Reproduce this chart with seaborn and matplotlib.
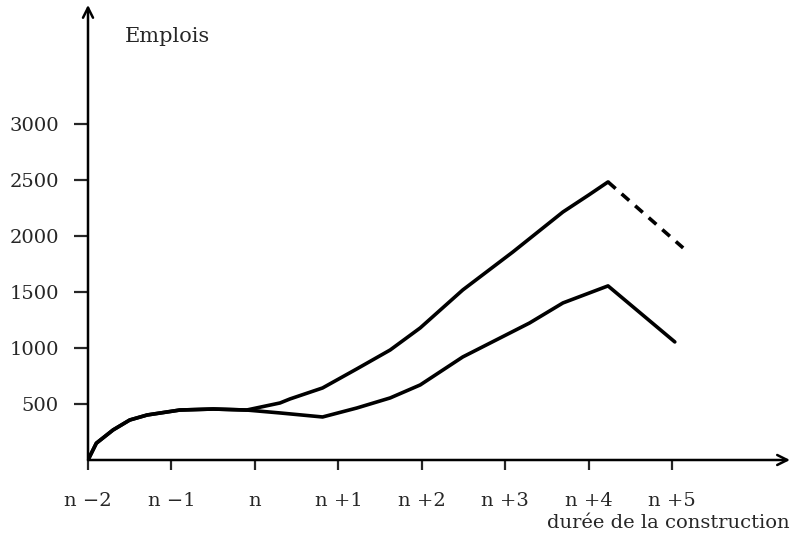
import numpy as np
import pandas as pd
import matplotlib
matplotlib.use("Agg")
import matplotlib.pyplot as plt
import seaborn as sns

# ===============================
# Data
# (x in periods counted from n-2, y in jobs)
# ===============================
period_labels = ["n \u22122", "n \u22121", "n", "n +1", "n +2", "n +3", "n +4", "n +5"]
y_ticks = [500, 1000, 1500, 2000, 2500, 3000]

upper_x = [0, 0.1, 0.3, 0.5, 0.71, 1.1, 1.5, 1.9, 2.3, 2.42, 2.81, 3.22, 3.62, 3.98, 4.49, 5.09, 5.69, 6.0, 6.23]
upper_y = [0, 150, 268, 357, 402, 446, 455, 446, 509, 545, 643, 813, 982, 1179, 1518, 1857, 2214, 2366, 2482]

upper_dash_x = [6.23, 7.13]
upper_dash_y = [2482, 1893]

lower_x = [0, 0.1, 0.3, 0.5, 0.71, 1.1, 1.5, 1.9, 2.3, 2.81, 3.22, 3.62, 3.98, 4.49, 5.29, 5.69, 6.23, 7.03]
lower_y = [0, 150, 268, 357, 402, 446, 455, 446, 420, 384, 464, 554, 670, 920, 1223, 1402, 1554, 1054]

df = pd.concat([
    pd.DataFrame({"x": upper_x, "y": upper_y, "serie": "haut"}),
    pd.DataFrame({"x": lower_x, "y": lower_y, "serie": "bas"}),
])
df_dash = pd.DataFrame({"x": upper_dash_x, "y": upper_dash_y})

# ===============================
# Style
# ===============================
sns.set_style("white")
plt.rcParams["font.family"] = ["DejaVu Serif"]

fig = plt.figure(figsize=(8, 5.36), dpi=100)
ax = fig.add_axes([0.11, 0.1418, 0.8775, 0.849])

sns.lineplot(data=df, x="x", y="y", hue="serie", palette=["black", "black"],
             lw=2.6, sort=False, legend=False, ax=ax)
sns.lineplot(data=df_dash, x="x", y="y", color="black", lw=2.6,
             ax=ax, legend=False).lines[-1].set_dashes((2.8, 2.2))

ax.set_xlim(0, 8.41)
ax.set_ylim(0, 4062)

# axes drawn as arrows
for s in ax.spines.values():
    s.set_visible(False)
ax.annotate("", xy=(1, 0), xytext=(0, 0), xycoords="axes fraction",
            arrowprops=dict(arrowstyle="->", lw=1.8, color="black",
                            mutation_scale=18, shrinkA=0, shrinkB=0))
ax.annotate("", xy=(0, 1), xytext=(0, 0), xycoords="axes fraction",
            arrowprops=dict(arrowstyle="->", lw=1.8, color="black",
                            mutation_scale=18, shrinkA=0, shrinkB=0))

ax.set_xticks(range(len(period_labels)))
ax.set_xticklabels(period_labels)
ax.set_yticks(y_ticks)
ax.set_yticklabels([str(v) for v in y_ticks])
ax.tick_params(axis="x", direction="out", length=7, width=1.6, pad=16,
               labelsize=14, bottom=True)
ax.tick_params(axis="y", direction="out", length=10, width=1.6, pad=11,
               labelsize=14, left=True)
ax.set_xlabel("")
ax.set_ylabel("")

ax.text(0.053, 0.93, "Emplois", transform=ax.transAxes, fontsize=15,
        ha="left", va="center")
fig.text(0.9875, 0.024, "durée de la construction", fontsize=14,
         ha="right", va="center")

fig.savefig("out.png", dpi=100)
